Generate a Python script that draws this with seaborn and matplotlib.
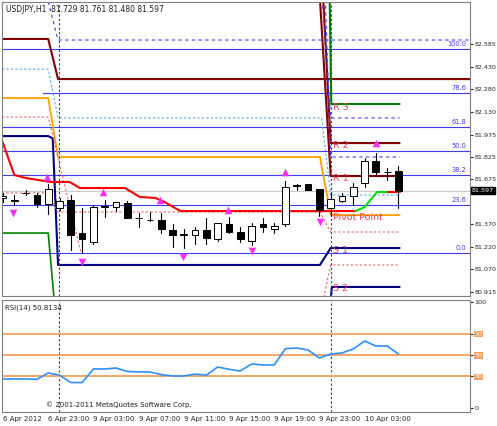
import matplotlib
matplotlib.use("Agg")
import matplotlib.pyplot as plt
import seaborn as sns
import pandas as pd

# candles: bar index 0 = 6 Apr 18:00, one bar per hour
opens  = [81.55, 81.53, 81.58, 81.57, 81.51, 81.48, 81.535, 81.31, 81.25, 81.49, 81.49, 81.515,
          81.41, 81.40, 81.40, 81.335, 81.30, 81.30, 81.33, 81.27, 81.37, 81.32, 81.26, 81.37,
          81.34, 81.37, 81.63, 81.64, 81.61, 81.48, 81.53, 81.56, 81.65, 81.80, 81.72, 81.729]
highs  = [81.58, 81.57, 81.60, 81.58, 81.64, 81.55, 81.57, 81.48, 81.50, 81.535, 81.52, 81.53,
          81.445, 81.455, 81.45, 81.37, 81.34, 81.35, 81.41, 81.38, 81.42, 81.35, 81.38, 81.41,
          81.38, 81.66, 81.64, 81.64, 81.61, 81.58, 81.58, 81.65, 81.82, 81.85, 81.75, 81.761]
lows   = [81.52, 81.50, 81.57, 81.49, 81.44, 81.47, 81.20, 81.18, 81.24, 81.42, 81.46, 81.41,
          81.35, 81.39, 81.31, 81.22, 81.21, 81.24, 81.24, 81.26, 81.31, 81.25, 81.23, 81.32,
          81.31, 81.36, 81.60, 81.60, 81.43, 81.43, 81.52, 81.50, 81.62, 81.71, 81.67, 81.480]
closes = [81.56, 81.53, 81.58, 81.51, 81.61, 81.53, 81.30, 81.27, 81.49, 81.49, 81.52, 81.41,
          81.41, 81.40, 81.34, 81.30, 81.30, 81.335, 81.28, 81.38, 81.32, 81.27, 81.36, 81.35,
          81.36, 81.62, 81.63, 81.60, 81.47, 81.54, 81.56, 81.62, 81.80, 81.72, 81.72, 81.597]

rsi = [27.4, 27.4, 27.4, 27.0, 33.0, 31.0, 24.0, 24.0, 36.8, 36.8, 37.7, 34.5, 34.0, 34.0,
       31.5, 30.2, 30.2, 32.0, 31.0, 38.7, 36.5, 34.9, 41.5, 40.6, 40.6, 56.0, 56.6, 54.7,
       47.2, 50.9, 51.9, 55.7, 63.2, 58.5, 58.5, 50.8]

fib_levels = [100.0, 78.6, 61.8, 50.0, 38.2, 23.6, 0.0]
fib_high, fib_low = 82.551, 81.178

# indicator step lines (bar, price)
dark_red_bars, dark_red_px = [-0.1, 4.0, 4.87, 41.4], [82.619, 82.619, 82.349, 82.349]
r1_bars, r1_px = [28.0, 29.0, 35.1], [82.95, 81.696, 81.696]
r2_bars, r2_px = [28.3, 29.0, 35.1], [82.95, 81.918, 81.918]
r3_bars, r3_px = [28.9, 29.05, 35.1], [82.95, 82.181, 82.181]
green_l_bars, green_l_px = [-0.1, 4.0, 4.6], [81.312, 81.312, 80.8]
orange_bars = [-0.1, 4.0, 4.87, 28.05, 29.0, 35.1]
orange_px = [82.221, 82.221, 81.824, 81.824, 81.433, 81.433]
navy_bars = [-0.1, 4.0, 4.4, 4.87, 28.05, 29.0, 35.1]
navy_px = [81.965, 81.965, 81.95, 81.097, 81.097, 81.211, 81.211]
s2_bars, s2_px = [29.0, 29.1, 35.1], [80.85, 80.949, 80.949]
blue_dash_bars, blue_dash_px = [4.0, 4.87, 41.4], [82.87, 82.612, 82.612]
blue_dash2_bars, blue_dash2_px = [28.2, 29.0, 35.1], [82.95, 82.087, 82.087]
blue_dash3_bars, blue_dash3_px = [28.5, 29.0, 35.1], [82.95, 81.824, 81.824]
lblue_bars = [-0.1, 4.0, 4.87, 28.2, 29.0, 35.1]
lblue_px = [82.416, 82.416, 82.087, 82.087, 81.568, 81.568]
red_dash_a_bars, red_dash_a_px = [-0.1, 4.0, 6.9], [82.093, 82.093, 81.18]
red_dash_b_bars = [-0.1, 4.0, 4.87, 28.05, 29.0, 35.1]
red_dash_b_px = [81.582, 81.582, 81.454, 81.454, 81.319, 81.319]
red_dash_c_bars, red_dash_c_px = [28.3, 29.0, 35.1], [80.85, 81.097, 81.097]
red_bars = [-0.1, 1.0, 2.0, 4.2, 5.9, 6.8, 10.8, 12.1, 13.5, 14.3, 15.7, 31.2]
red_px = [81.938, 81.703, 81.683, 81.656, 81.656, 81.615, 81.615, 81.555, 81.548, 81.521, 81.460, 81.460]
green_bars, green_px = [31.2, 32.0, 33.1, 34.1], [81.460, 81.487, 81.588, 81.588]
red2_bars, red2_px = [34.1, 35.1], [81.588, 81.588]

up_bars, up_px = [3.9, 8.85, 13.9, 19.9, 25.0, 33.0], [81.689, 81.588, 81.535, 81.467, 81.723, 81.918]
dn_bars, dn_px = [0.9, 7.0, 15.9, 22.0, 28.05], [81.447, 81.117, 81.151, 81.191, 81.386]

pivot_names = ["R 3", "R 2", "R 1", "Pivot Point", "S 1", "S 2"]
pivot_px = [82.14, 81.885, 81.665, 81.40, 81.18, 80.92]

price_ticks = [82.585, 82.430, 82.280, 82.130, 81.975, 81.825, 81.675, 81.370, 81.220, 81.070, 80.915]
time_bars = [0, 4, 8, 12, 16, 20, 24, 28, 32]
time_labels = ["6 Apr 2012", "6 Apr 23:00", "9 Apr 03:00", "9 Apr 07:00", "9 Apr 11:00",
               "9 Apr 15:00", "9 Apr 19:00", "9 Apr 23:00", "10 Apr 03:00"]

sns.set_style("white")
plt.rcParams['font.family'] = ['DejaVu Sans']
W, H = 497, 426
fig = plt.figure(figsize=(W / 100, H / 100), dpi=100)
ax = fig.add_axes([2 / W, (H - 296) / H, 468 / W, 294 / H])
ax2 = fig.add_axes([2 / W, (H - 412) / H, 468 / W, 112 / H])
XL = (-0.09, 41.33)

# fibonacci levels
for lv in fib_levels:
    p = fib_low + lv / 100 * (fib_high - fib_low)
    x0 = 3.5 if lv == 78.6 else XL[0]
    ax.plot([x0, XL[1]], [p, p], color="#3c3cf0", lw=0.8)
    ax.text(41.0, p + 0.012, f"{lv:.1f}", color="#3c3cf0", fontsize=4.8, ha="right", va="bottom")
ax.axhline(81.597, color="#c8c8c8", lw=0.8)

def line(b, p, c, lw=1.2, ls="-"):
    ax.plot(b, p, color=c, lw=lw, ls=ls)

line(dark_red_bars, dark_red_px, "#800000", 1.5)
line(r1_bars, r1_px, "#800000", 1.5)
line(r2_bars, r2_px, "#800000", 1.5)
line(r3_bars, r3_px, "#008000", 1.5)
line(green_l_bars, green_l_px, "#008000", 1.2)
line(orange_bars, orange_px, "#ffa000", 1.3)
line(navy_bars, navy_px, "#000080", 1.5)
line(s2_bars, s2_px, "#000080", 1.5)
line(blue_dash_bars, blue_dash_px, "#4040ff", 0.8, (0, (3, 3)))
line(blue_dash2_bars, blue_dash2_px, "#4040ff", 0.8, (0, (3, 3)))
line(blue_dash3_bars, blue_dash3_px, "#4040ff", 0.8, (0, (3, 3)))
line(lblue_bars, lblue_px, "#50a8f0", 0.8, (0, (2, 2)))
line(red_dash_a_bars, red_dash_a_px, "#f06060", 0.8, (0, (2, 2)))
line(red_dash_b_bars, red_dash_b_px, "#f06060", 0.8, (0, (2, 2)))
line(red_dash_c_bars, red_dash_c_px, "#f06060", 0.8, (0, (2, 2)))
line(red_bars, red_px, "#ff0000", 1.5)
line(green_bars, green_px, "#00e000", 1.5)
line(red2_bars, red2_px, "#ff0000", 1.5)

for name, p in zip(pivot_names, pivot_px):
    ax.text(29.2, p, name, color="#e8405a", fontsize=6.8)

# candles
for i, (o, h, l, c) in enumerate(zip(opens, highs, lows, closes)):
    ax.plot([i, i], [l, h], color="black", lw=0.8, zorder=4)
    ax.bar(i, max(abs(c - o), 0.003), bottom=min(o, c), width=0.6,
           color="white" if c >= o else "black", edgecolor="black", lw=0.7, zorder=5)

ax.scatter(up_bars, up_px, marker="^", s=30, color="#ff30ff", zorder=6, lw=0)
ax.scatter(dn_bars, dn_px, marker="v", s=30, color="#ff30ff", zorder=6, lw=0)

for a in (ax, ax2):
    a.axvline(4.96, color="#404040", ls=(0, (2, 2)), lw=0.8)
    a.axvline(29.0, color="#404040", ls=(0, (2, 2)), lw=0.8)
    a.set_xlim(*XL)
    a.yaxis.tick_right()
    a.tick_params(axis="y", labelsize=4.6, length=2, pad=1)
    for s in a.spines.values():
        s.set_color("#808080")
        s.set_linewidth(0.8)

ax.set_ylim(80.888, 82.868)
ax.set_yticks(price_ticks)
ax.set_yticklabels([f"{t:.3f}" for t in price_ticks])
ax.set_xticks([])
ax.text(1.004, (81.597 - 80.888) / (82.868 - 80.888), "81.597", transform=ax.transAxes,
        fontsize=4.6, color="white", va="center", ha="left",
        bbox=dict(boxstyle="square,pad=0.15", fc="black", ec="black"))
ax.text(0.3, 82.80, "USDJPY,H1  81.729 81.761 81.480 81.597", fontsize=5.5, color="#202020")

# RSI panel
rsi_df = pd.DataFrame({"bar": range(len(rsi)), "rsi": rsi})
for lv in (70, 50, 30):
    ax2.axhline(lv, color="#f5a060", lw=1.3)
sns.lineplot(data=rsi_df, x="bar", y="rsi", ax=ax2, color="#2f8fff", lw=1.2)
ax2.set_ylim(-3.8, 101.9)
ax2.set_yticks([100, 70, 50, 30, 0])
ax2.set_yticklabels(["100", "70", "50", "30", "0"])
for lbl in ax2.get_yticklabels()[1:4]:
    lbl.set_color("white")
    lbl.set_bbox(dict(boxstyle="square,pad=0.1", fc="#f5a060", ec="none"))
ax2.set_xlabel("")
ax2.set_ylabel("")
ax2.set_xticks(time_bars)
ax2.set_xticklabels(time_labels, ha="left")
ax2.tick_params(axis="x", labelsize=5, length=2, pad=1)
ax2.text(0.2, 93, "RSI(14) 50.8134", fontsize=5, color="#202020")
ax2.text(3.8, 1, "© 2001-2011 MetaQuotes Software Corp.", fontsize=5, color="#202020")

fig.savefig("out.png", dpi=100, facecolor="white")
